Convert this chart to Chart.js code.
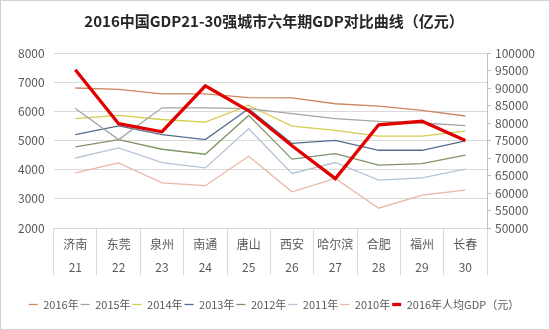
<!DOCTYPE html>
<html>
<head>
<meta charset="utf-8">
<script src="https://cdn.jsdelivr.net/npm/chart.js@4"></script>
<style>
  html, body { margin: 0; padding: 0; background: #fff; }
  #wrap { width: 550px; height: 330px; box-sizing: border-box; border: 1px solid #d0d0d0; }
</style>
</head>
<body>
<div id="wrap"><canvas id="gdpChart" width="548" height="328"></canvas></div>
<script>
// GDP of cities ranked 21-30, six years plus 2016 per-capita GDP
const cities = ["济南", "东莞", "泉州", "南通", "唐山", "西安", "哈尔滨", "合肥", "福州", "长春"];
const ranks = ["21", "22", "23", "24", "25", "26", "27", "28", "29", "30"];

const gdp2016 = [6800, 6750, 6600, 6600, 6470, 6460, 6260, 6180, 6030, 5840];
const gdp2015 = [6100, 5030, 6120, 6120, 6090, 5920, 5750, 5655, 5600, 5510];
const gdp2014 = [5750, 5860, 5720, 5630, 6200, 5490, 5350, 5150, 5150, 5325];
const gdp2013 = [5200, 5500, 5200, 5030, 6090, 4900, 5005, 4665, 4665, 4985];
const gdp2012 = [4780, 5030, 4700, 4530, 5860, 4360, 4550, 4155, 4210, 4495];
const gdp2011 = [4400, 4745, 4245, 4060, 5405, 3870, 4245, 3640, 3720, 4015];
const gdp2010 = [3890, 4230, 3550, 3450, 4460, 3240, 3700, 2680, 3130, 3300];
const perCapita2016 = [95200, 79800, 77500, 90600, 83500, 73500, 64100, 79500, 80500, 75000];

const seriesNames = ["2016年", "2015年", "2014年", "2013年", "2012年", "2011年", "2010年", "2016年人均GDP（元）"];

const FONT = "'Noto Sans CJK SC', 'Noto Sans', sans-serif";
const TEXT = "#595959";

function yearLine(label, data, color, order) {
  return {
    label: label,
    data: data,
    borderColor: color,
    backgroundColor: color,
    borderWidth: 1.3,
    pointRadius: 0,
    pointStyle: "line",
    tension: 0,
    yAxisID: "y",
    order: order,
  };
}

// two-row category labels (city / rank) inside the x-axis cells
const cellLabels = {
  id: "cellLabels",
  afterDraw(chart) {
    const x = chart.scales.x;
    const c = chart.ctx;
    c.save();
    c.fillStyle = TEXT;
    c.font = "12px " + FONT;
    c.textAlign = "center";
    c.textBaseline = "middle";
    cities.forEach((city, i) => {
      const px = x.getPixelForValue(i);
      c.fillText(city, px, x.top + 16);
      c.fillText(ranks[i], px, x.top + 39);
    });
    c.restore();
  },
};

const ctx = document.getElementById("gdpChart").getContext("2d");
new Chart(ctx, {
  type: "line",
  data: {
    labels: cities,
    datasets: [
      yearLine(seriesNames[0], gdp2016, "#cc8660", 1),
      yearLine(seriesNames[1], gdp2015, "#a5a5a8", 2),
      yearLine(seriesNames[2], gdp2014, "#d6cc4e", 3),
      yearLine(seriesNames[3], gdp2013, "#4f6d8f", 4),
      yearLine(seriesNames[4], gdp2012, "#7e9466", 5),
      yearLine(seriesNames[5], gdp2011, "#b4c4d6", 6),
      yearLine(seriesNames[6], gdp2010, "#e9b6a6", 7),
      {
        label: seriesNames[7],
        data: perCapita2016,
        borderColor: "#e00000",
        backgroundColor: "#e00000",
        borderWidth: 3.3,
        pointRadius: 0,
        pointStyle: "line",
        tension: 0,
        yAxisID: "y1",
        order: 0,
      },
    ],
  },
  options: {
    responsive: false,
    animation: false,
    layout: { padding: { left: 8, right: 10, top: 0, bottom: 9 } },
    plugins: {
      title: {
        display: true,
        text: "2016中国GDP21-30强城市六年期GDP对比曲线（亿元）",
        color: "#262626",
        font: { family: FONT, size: 15, weight: "bold" },
        padding: { top: 11, bottom: 23 },
      },
      legend: {
        position: "bottom",
        labels: {
          usePointStyle: true,
          pointStyleWidth: 9,
          boxHeight: 6,
          padding: 2,
          color: TEXT,
          font: { family: FONT, size: 11 },
          sort: (a, b) => a.datasetIndex - b.datasetIndex,
        },
      },
      tooltip: { enabled: false },
    },
    scales: {
      x: {
        offset: true,
        grid: {
          offset: true,
          drawOnChartArea: false,
          tickLength: 47,
          color: "#d9d9d9",
        },
        border: { color: "#d9d9d9" },
        ticks: { display: false },
        afterFit: (scale) => { scale.height = 69; },
      },
      y: {
        position: "left",
        min: 2000,
        max: 8000,
        ticks: { stepSize: 1000, color: TEXT, padding: 9, font: { family: FONT, size: 12 }, callback: (v) => String(v) },
        grid: { color: "#d9d9d9", drawTicks: false },
        border: { display: false },
      },
      y1: {
        position: "right",
        min: 50000,
        max: 100000,
        ticks: { stepSize: 5000, color: TEXT, padding: 4, font: { family: FONT, size: 12 }, callback: (v) => String(v) },
        grid: { drawOnChartArea: false, tickLength: 4, color: "#bfbfbf" },
        border: { display: true, color: "#bfbfbf" },
      },
    },
  },
  plugins: [cellLabels],
});
</script>
</body>
</html>
